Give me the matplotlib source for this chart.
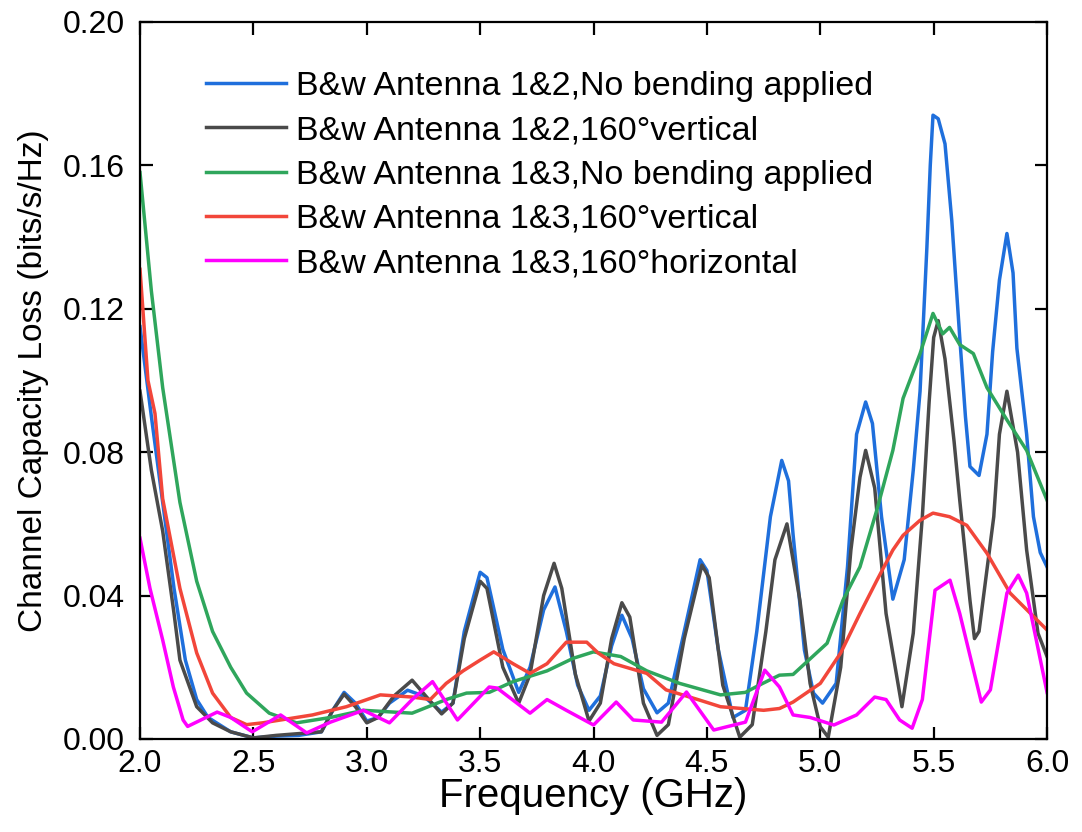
import matplotlib
matplotlib.use("Agg")
import matplotlib.pyplot as plt

plt.rcParams['font.family'] = ['Liberation Sans', 'DejaVu Sans']

labels = [
    "B&w Antenna 1&2,No bending applied",
    "B&w Antenna 1&2,160\u00b0vertical",
    "B&w Antenna 1&3,No bending applied",
    "B&w Antenna 1&3,160\u00b0vertical",
    "B&w Antenna 1&3,160\u00b0horizontal",
]
colors = ["#1f6fdc", "#4a4a4a", "#2fa65c", "#f2463a", "#ff00ff"]

blue_f = [2.00, 2.05, 2.10, 2.15, 2.20, 2.25, 2.30, 2.40, 2.50, 2.60, 2.70, 2.80, 2.85, 2.90, 2.95,
          3.00, 3.05, 3.10, 3.18, 3.25, 3.33, 3.38, 3.43, 3.50, 3.53, 3.60, 3.67, 3.72, 3.78, 3.83,
          3.88, 3.93, 3.98, 4.03, 4.08, 4.125, 4.17, 4.22, 4.28, 4.33, 4.40, 4.47, 4.50, 4.55, 4.615,
          4.67, 4.72, 4.78, 4.83, 4.86, 4.88, 4.93, 4.97, 5.01, 5.07, 5.12, 5.16, 5.20, 5.23, 5.27,
          5.32, 5.37, 5.41, 5.44, 5.47, 5.485, 5.497, 5.52, 5.55, 5.58, 5.615, 5.64, 5.66, 5.70,
          5.735, 5.76, 5.79, 5.823, 5.85, 5.867, 5.91, 5.94, 5.97, 6.00]
blue_v = [0.115, 0.090, 0.066, 0.042, 0.022, 0.011, 0.006, 0.002, 0.0003, 0.0008, 0.001, 0.002, 0.008, 0.013, 0.010,
          0.005, 0.006, 0.010, 0.0136, 0.012, 0.0075, 0.010, 0.030, 0.0465, 0.045, 0.025, 0.013, 0.020, 0.036, 0.0424,
          0.030, 0.015, 0.008, 0.012, 0.026, 0.0345, 0.028, 0.014, 0.0073, 0.010, 0.030, 0.050, 0.047, 0.025, 0.006,
          0.008, 0.030, 0.062, 0.0777, 0.072, 0.057, 0.0248, 0.0128, 0.010, 0.0155, 0.048, 0.085, 0.094, 0.088, 0.062,
          0.039, 0.050, 0.075, 0.097, 0.137, 0.160, 0.174, 0.173, 0.166, 0.1445, 0.112, 0.090, 0.076, 0.0735,
          0.085, 0.108, 0.128, 0.141, 0.130, 0.109, 0.085, 0.062, 0.052, 0.048]

black_f = [2.00, 2.05, 2.10, 2.15, 2.176, 2.25, 2.32, 2.40, 2.50, 2.60, 2.70, 2.80, 2.85, 2.90, 2.95,
           3.00, 3.05, 3.12, 3.20, 3.26, 3.33, 3.38, 3.43, 3.50, 3.53, 3.60, 3.67, 3.72, 3.78, 3.826,
           3.86, 3.92, 3.98, 4.03, 4.08, 4.125, 4.16, 4.22, 4.28, 4.33, 4.40, 4.478, 4.51, 4.57, 4.645,
           4.70, 4.76, 4.80, 4.853, 4.91, 4.955, 5.00, 5.035, 5.09, 5.135, 5.175, 5.20, 5.24, 5.29,
           5.36, 5.41, 5.45, 5.48, 5.50, 5.52, 5.55, 5.59, 5.615, 5.66, 5.68, 5.70, 5.765, 5.79,
           5.823, 5.87, 5.91, 5.96, 6.00]
black_v = [0.097, 0.075, 0.058, 0.035, 0.022, 0.009, 0.0045, 0.002, 0.0003, 0.001, 0.0015, 0.002, 0.008, 0.0125, 0.009,
           0.0045, 0.006, 0.012, 0.0164, 0.012, 0.007, 0.010, 0.028, 0.044, 0.042, 0.020, 0.010, 0.018, 0.040, 0.049,
           0.042, 0.018, 0.005, 0.010, 0.028, 0.038, 0.034, 0.010, 0.001, 0.004, 0.028, 0.0485, 0.045, 0.015, 0.0005,
           0.004, 0.030, 0.050, 0.060, 0.0387, 0.0155, 0.0034, 0.0005, 0.020, 0.0527, 0.073, 0.0805, 0.070, 0.035,
           0.009, 0.0295, 0.062, 0.094, 0.112, 0.1167, 0.106, 0.083, 0.0666, 0.0387, 0.028, 0.030, 0.062, 0.085,
           0.097, 0.080, 0.0527, 0.0295, 0.023]

green_f = [2.00, 2.05, 2.10, 2.176, 2.25, 2.32, 2.40, 2.47, 2.57, 2.69, 2.84, 2.985, 3.20, 3.35, 3.44,
           3.54, 3.645, 3.795, 3.91, 4.00, 4.12, 4.235, 4.38, 4.56, 4.67, 4.73, 4.82, 4.88, 5.03, 5.10,
           5.175, 5.25, 5.32, 5.365, 5.44, 5.497, 5.54, 5.57, 5.615, 5.675, 5.735, 5.823, 5.91, 6.00]
green_v = [0.158, 0.125, 0.098, 0.066, 0.044, 0.030, 0.020, 0.0128, 0.0072, 0.0045, 0.006, 0.008, 0.0072, 0.011, 0.0128,
           0.013, 0.016, 0.019, 0.0225, 0.0243, 0.023, 0.019, 0.0155, 0.0123, 0.013, 0.015, 0.0178, 0.018, 0.0267, 0.0387,
           0.048, 0.064, 0.0805, 0.095, 0.1075, 0.1187, 0.113, 0.1148, 0.110, 0.1075, 0.098, 0.089, 0.0805, 0.0666]

red_f = [2.00, 2.035, 2.066, 2.10, 2.176, 2.25, 2.32, 2.40, 2.47, 2.54, 2.69, 2.76, 2.91, 3.06, 3.20,
         3.28, 3.35, 3.425, 3.50, 3.56, 3.645, 3.72, 3.795, 3.88, 3.97, 4.02, 4.09, 4.235, 4.32, 4.46,
         4.56, 4.75, 4.82, 4.88, 5.00, 5.09, 5.175, 5.25, 5.32, 5.365, 5.44, 5.497, 5.57, 5.646, 5.735,
         5.837, 6.00]
red_v = [0.131, 0.100, 0.0908, 0.067, 0.042, 0.024, 0.0128, 0.006, 0.004, 0.0045, 0.006, 0.0067, 0.009, 0.0123, 0.0117,
         0.011, 0.0155, 0.019, 0.022, 0.0243, 0.021, 0.0183, 0.021, 0.027, 0.027, 0.024, 0.021, 0.0183, 0.0137, 0.011,
         0.009, 0.008, 0.0085, 0.0103, 0.0155, 0.024, 0.035, 0.0443, 0.0527, 0.0568, 0.061, 0.063, 0.062, 0.0596, 0.0518,
         0.0407, 0.0304]

mag_f = [2.00, 2.044, 2.10, 2.147, 2.19, 2.21, 2.34, 2.40, 2.495, 2.62, 2.735, 2.84, 2.985, 3.10, 3.20,
         3.29, 3.40, 3.54, 3.575, 3.72, 3.795, 3.88, 4.00, 4.10, 4.175, 4.30, 4.41, 4.53, 4.67, 4.755,
         4.82, 4.88, 4.955, 5.06, 5.16, 5.24, 5.29, 5.35, 5.405, 5.45, 5.506, 5.572, 5.615, 5.71, 5.75,
         5.823, 5.873, 5.91, 6.00]
mag_v = [0.056, 0.042, 0.0276, 0.0145, 0.0053, 0.0035, 0.0075, 0.006, 0.002, 0.0067, 0.0017, 0.0047, 0.008, 0.0045, 0.011,
         0.016, 0.0053, 0.0145, 0.0142, 0.0072, 0.011, 0.008, 0.0039, 0.0103, 0.0053, 0.0047, 0.0131, 0.0025, 0.0047, 0.0192,
         0.0145, 0.0067, 0.006, 0.0039, 0.0067, 0.0117, 0.011, 0.0053, 0.003, 0.011, 0.0415, 0.0443, 0.035, 0.0103, 0.0137,
         0.0407, 0.0457, 0.0407, 0.013]

series = [(blue_f, blue_v), (black_f, black_v), (green_f, green_v), (red_f, red_v), (mag_f, mag_v)]

fig = plt.figure(figsize=(10.82, 8.32), dpi=100)
ax = fig.add_axes([0.1294, 0.1118, 0.8383, 0.8618])

for (f, v), c, lab in zip(series, colors, labels):
    ax.plot(f, v, color=c, lw=2.5, label=lab)

ax.set_xlim(2.0, 6.0)
ax.set_ylim(0.0, 0.20)
ax.set_xticks([2.0, 2.5, 3.0, 3.5, 4.0, 4.5, 5.0, 5.5, 6.0])
ax.set_yticks([0.00, 0.04, 0.08, 0.12, 0.16, 0.20])
ax.set_xticklabels(["2.0", "2.5", "3.0", "3.5", "4.0", "4.5", "5.0", "5.5", "6.0"])
ax.set_yticklabels(["0.00", "0.04", "0.08", "0.12", "0.16", "0.20"])
ax.tick_params(direction='in', top=True, right=True, length=9, width=1.6, labelsize=23, pad=7)
ax.tick_params(axis='y', pad=11)
for s in ax.spines.values():
    s.set_linewidth(1.6)

ax.set_xlabel("Frequency (GHz)", fontsize=29, labelpad=-1)
ax.set_ylabel("Channel Capacity Loss (bits/s/Hz)", fontsize=24, labelpad=10)

leg = ax.legend(loc='upper left', bbox_to_anchor=(0.05, 0.96), frameon=False, fontsize=24.5,
                handlelength=2.35, handletextpad=0.3, labelspacing=0.39, borderaxespad=0.2)

fig.savefig("out.png", dpi=100)
